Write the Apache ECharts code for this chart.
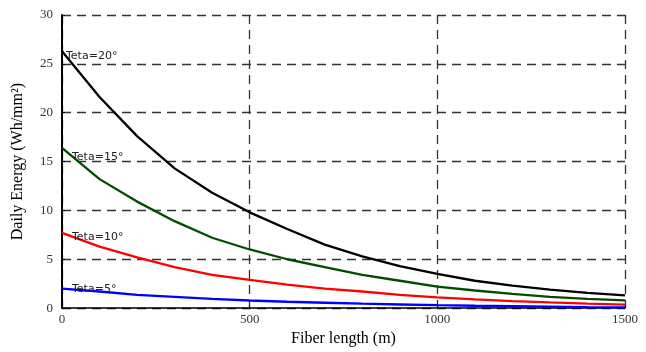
<!DOCTYPE html>
<html><head><meta charset="utf-8">
<script src="https://cdn.jsdelivr.net/npm/echarts@6/dist/echarts.min.js"></script>
<style>html,body{margin:0;padding:0;background:#fff}#c{width:646px;height:352px}</style>
</head><body><div id="c"></div>
<script>
const fiberLength = [0,100,200,300,400,500,600,700,800,900,1000,1100,1200,1300,1400,1500];
const teta20 = [26.3,21.6,17.6,14.3,11.8,9.8,8.1,6.5,5.3,4.3,3.5,2.8,2.3,1.9,1.55,1.3];
const teta15 = [16.4,13.2,10.9,8.9,7.2,6.0,5.0,4.2,3.4,2.8,2.2,1.8,1.45,1.15,0.95,0.8];
const teta10 = [7.7,6.3,5.2,4.2,3.4,2.9,2.4,2.0,1.7,1.35,1.1,0.9,0.72,0.58,0.45,0.35];
const teta5  = [2.0,1.7,1.35,1.15,0.95,0.78,0.65,0.55,0.45,0.37,0.3,0.24,0.19,0.14,0.1,0.07];
const seriesNames = ['Teta=20°','Teta=15°','Teta=10°','Teta=5°'];
const seriesColors = ['#000000','#004d00','#ff0000','#0000ff'];
const labelOffsets = [[2,5],[8,9],[8,4],[8,1]];
const allValues = [teta20, teta15, teta10, teta5];

const chart = echarts.init(document.getElementById('c'), null, {renderer:'canvas'});
const serif = '"Liberation Serif", "DejaVu Serif", serif';
const series = allValues.map((vals, i) => ({
  name: seriesNames[i],
  type: 'line',
  symbol: 'circle',
  symbolSize: 0,
  showSymbol: true,
  smooth: false,
  lineStyle: {color: seriesColors[i], width: 2.3},
  itemStyle: {color: seriesColors[i]},
  label: {show: false},
  data: vals.map((v, j) => {
    const d = {value: [fiberLength[j], v]};
    if (j === 0) {
      d.label = {
        show: true, formatter: seriesNames[i], position: 'right',
        distance: 2, offset: labelOffsets[i],
        fontFamily: '"DejaVu Sans", Arial, sans-serif', fontSize: 11,
        color: '#222'
      };
    }
    return d;
  }),
  z: 5
}));

chart.setOption({
  animation: false,
  grid: {left: 62, right: 21, top: 15, bottom: 37},
  xAxis: {
    type: 'value', min: 0, max: 1500, interval: 500,
    name: 'Fiber length (m)', nameLocation: 'middle', nameGap: 19,
    nameTextStyle: {fontFamily: serif, fontSize: 16, color: '#000'},
    axisLine: {show: true, lineStyle: {color: '#000', width: 1.5}},
    axisTick: {show: true, inside: true, length: 3, lineStyle: {color: '#000'}},
    axisLabel: {fontFamily: serif, fontSize: 13, color: '#333', margin: 5, formatter: v => String(v)},
    splitLine: {show: true, lineStyle: {color: '#333', type: [9,6], width: 1.3}}
  },
  yAxis: {
    type: 'value', min: 0, max: 30, interval: 5,
    name: 'Daily Energy (Wh/mm²)', nameLocation: 'middle', nameGap: 36,
    nameTextStyle: {fontFamily: serif, fontSize: 16, color: '#000'},
    axisLine: {show: true, lineStyle: {color: '#000', width: 2}},
    axisTick: {show: true, inside: true, length: 3, lineStyle: {color: '#000'}},
    axisLabel: {fontFamily: serif, fontSize: 13, color: '#333', margin: 9},
    splitLine: {show: true, lineStyle: {color: '#333', type: [9,6], width: 1.3}}
  },
  series: series
});
</script></body></html>
